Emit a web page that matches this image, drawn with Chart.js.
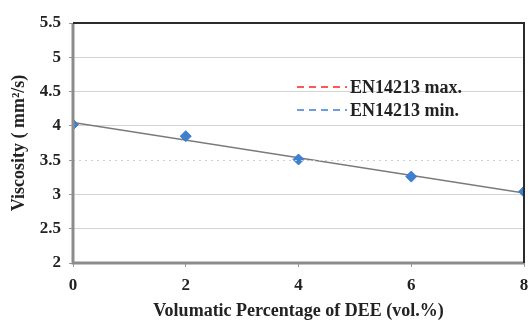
<!DOCTYPE html>
<html>
<head>
<meta charset="utf-8">
<script src="https://cdn.jsdelivr.net/npm/chart.js@4/dist/chart.umd.min.js"></script>
<style>
  html, body { margin: 0; padding: 0; background: #fff; }
  #wrap { width: 531px; height: 320px; }
</style>
</head>
<body>
<div id="wrap"><canvas id="viscChart"></canvas></div>
<script>
// data
const dee = [0, 2, 4, 6, 8];
const viscosity = [4.02, 3.85, 3.51, 3.26, 3.04];
const trendX = [0, 8];
const trendY = [4.05, 3.02];
const enMax = 5.0;  // EN14213 limits (legend only in the figure)
const enMin = 3.5;
const yTicks = [2, 2.5, 3, 3.5, 4, 4.5, 5, 5.5];

const serif = "'Liberation Serif', 'DejaVu Serif', serif";

// legend drawn inside the plot + frame + dotted line at 3.5
const extras = {
  id: 'extras',
  afterDraw(chart) {
    const c = chart.ctx, a = chart.chartArea;
    const y = chart.scales.y;
    c.save();
    // dotted grid line at 3.5
    c.strokeStyle = '#cfcfcf';
    c.lineWidth = 1;
    c.setLineDash([2, 4]);
    c.beginPath();
    c.moveTo(a.left, Math.round(y.getPixelForValue(3.5)) + 0.5);
    c.lineTo(a.right, Math.round(y.getPixelForValue(3.5)) + 0.5);
    c.stroke();
    // frame
    c.setLineDash([]);
    c.strokeStyle = '#8c8c8c';
    c.lineWidth = 3;
    c.beginPath();
    c.moveTo(a.left, a.top);
    c.lineTo(a.left, a.bottom);
    c.lineTo(a.right, a.bottom);
    c.stroke();
    c.strokeStyle = '#2b2b2b';
    c.lineWidth = 2;
    c.beginPath();
    c.moveTo(a.left, a.top);
    c.lineTo(a.right, a.top);
    c.lineTo(a.right, a.bottom);
    c.stroke();
    // legend
    const items = chart.data.datasets.filter(d => d.inLegend);
    c.font = 'bold 18px ' + serif;
    c.textBaseline = 'middle';
    items.forEach((d, i) => {
      const ly = 87 + i * 23;
      c.strokeStyle = d.borderColor;
      c.lineWidth = 1.5;
      c.setLineDash([7, 5]);
      c.beginPath();
      c.moveTo(297, ly);
      c.lineTo(347, ly);
      c.stroke();
      c.setLineDash([]);
      c.fillStyle = '#222';
      c.fillText(d.label, 350, ly + 1);
    });
    c.restore();
  }
};

new Chart(document.getElementById('viscChart'), {
  type: 'scatter',
  data: {
    datasets: [
      {
        label: 'Viscosity',
        data: dee.map((x, i) => ({ x: x, y: viscosity[i] })),
        pointStyle: 'rectRot',
        pointRadius: 5.5,
        backgroundColor: '#3f7fcf',
        borderColor: '#3f7fcf',
        showLine: false,
        order: 1
      },
      {
        label: 'Trend',
        data: trendX.map((x, i) => ({ x: x, y: trendY[i] })),
        showLine: true,
        pointRadius: 0,
        borderColor: '#7a7a7a',
        borderWidth: 1.5,
        order: 2
      },
      { label: 'EN14213 max.', data: [], borderColor: '#ff2020', inLegend: true, refValue: enMax },
      { label: 'EN14213 min.', data: [], borderColor: '#3b80d0', inLegend: true, refValue: enMin }
    ]
  },
  options: {
    responsive: true,
    maintainAspectRatio: false,
    animation: false,
    layout: { padding: { top: 23, right: 7, left: 0, bottom: 0 } },
    plugins: {
      legend: { display: false },
      tooltip: { enabled: false }
    },
    scales: {
      x: {
        type: 'linear',
        min: 0, max: 8,
        afterBuildTicks: s => { s.ticks = dee.map(v => ({ value: v })); },
        afterFit: s => { s.height = 57; s.paddingRight = 0; s.paddingLeft = 0; },
        grid: { display: true, drawOnChartArea: false, tickLength: 4, color: '#999' },
        border: { display: false },
        ticks: { color: '#222', font: { family: serif, size: 17, weight: 'bold' }, padding: 8, maxRotation: 0 },
        title: {
          display: true,
          text: 'Volumatic Percentage of DEE (vol.%)',
          color: '#222',
          font: { family: serif, size: 18, weight: 'bold' },
          padding: { top: 0, bottom: -2 }
        }
      },
      y: {
        min: 2, max: 5.5,
        afterBuildTicks: s => { s.ticks = yTicks.map(v => ({ value: v })); },
        afterFit: s => { s.width = 73; s.paddingTop = 0; s.paddingBottom = 0; },
        grid: {
          color: ctx => (ctx.tick && ctx.tick.value === 3.5) ? 'rgba(0,0,0,0)' : '#d4d4d4',
          tickColor: '#999',
          tickLength: 4
        },
        border: { display: false },
        ticks: {
          color: '#222',
          font: { family: serif, size: 17, weight: 'bold' },
          padding: 8,
          callback: v => String(v)
        },
        title: {
          display: true,
          text: 'Viscosity ( mm²/s)',
          color: '#222',
          font: { family: serif, size: 18, weight: 'bold' },
          padding: { top: 9, bottom: 2 }
        }
      }
    }
  },
  plugins: [extras]
});
</script>
</body>
</html>
